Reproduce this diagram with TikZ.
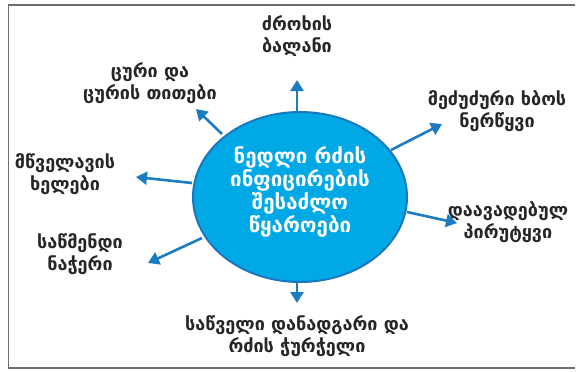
\documentclass[tikz,border=0pt]{standalone}
\usepackage{fontspec}
\setmainfont{DejaVu Sans}
\usetikzlibrary{arrows.meta,shapes.geometric}
\definecolor{arrowblue}{HTML}{1B7CC2}
\definecolor{ellfill}{HTML}{00A8E6}
\definecolor{ellline}{HTML}{1A78BE}
\definecolor{framegray}{HTML}{6E6E6E}
\tikzset{
  lbl/.style={align=center, font=\bfseries\fontsize{18}{22.5}\selectfont, text=black!85, inner sep=0pt},
  conn/.style={arrowblue, line width=2.6pt, -{Triangle[length=11pt,width=13pt]}},
}
\begin{document}
\begin{tikzpicture}[x=1pt,y=-1pt]
\useasboundingbox (0,0) rectangle (584,372);
\draw[framegray, line width=1.5pt] (575,5) -- (8.5,5) -- (8.5,368) -- (575,368);
\node[ellipse, draw=ellline, line width=2pt, fill=ellfill, minimum width=214, minimum height=170] (c) at (300,197) {};
\node[lbl, text=white, font=\bfseries\fontsize{20.5}{23}\selectfont] (ct) at (300,192) {ნედლი რძის\\ინფიცირების\\შესაძლო\\წყაროები};
\node[lbl] (t1) at (297,36) {ძროხის\\ბალანი};
\node[lbl] (t2) at (150,83) {ცური და\\ცურის თითები};
\node[lbl] (t3) at (497,111) {მეძუძური ხბოს\\ნერწყვი};
\node[lbl] (t4) at (65,174) {მწველავის\\ხელები};
\node[lbl] (t5) at (508,222) {დაავადებულ\\პირუტყვი};
\node[lbl] (t6) at (80,254) {საწმენდი\\ნაჭერი};
\node[lbl] (t7) at (297,336) {საწველი დანადგარი და\\რძის ჭურჭელი};
\coordinate (a1s) at (297,112); \coordinate (a1e) at (297,80);
\coordinate (a2s) at (222,134); \coordinate (a2e) at (196,109);
\coordinate (a3s) at (391,150); \coordinate (a3e) at (442,124);
\coordinate (a4s) at (192,183); \coordinate (a4e) at (136,177);
\coordinate (a5s) at (407,212); \coordinate (a5e) at (457,223);
\coordinate (a6s) at (202,238); \coordinate (a6e) at (148,263);
\coordinate (a7s) at (297,282); \coordinate (a7e) at (297,303);
\foreach \i in {1,...,7}{\draw[conn] (a\i s) -- (a\i e);}
\end{tikzpicture}
\end{document}
